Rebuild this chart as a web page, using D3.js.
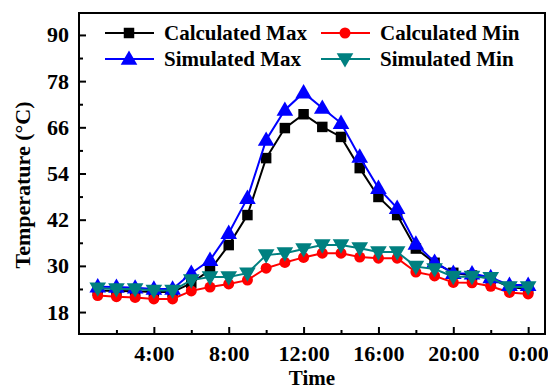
<!DOCTYPE html>
<html>
<head>
<meta charset="utf-8">
<script src="https://cdn.jsdelivr.net/npm/d3@7"></script>
<style>
  body { margin: 0; background: #fff; }
  text { font-family: "Liberation Serif", "Times New Roman", serif; font-weight: bold; }
</style>
</head>
<body>
<div class="svg-container"></div>
<script>
// hours 1..24 (24 = 0:00)
var hours = [1,2,3,4,5,6,7,8,9,10,11,12,13,14,15,16,17,18,19,20,21,22,23,24];

var calcMax = [23.6,23.5,23.4,23.2,23.2,25.5,28.9,35.4,43.2,58.0,65.8,69.4,66.1,63.5,55.4,47.9,43.2,34.5,30.8,28.2,27.5,26.7,24.5,24.0];
var calcMin = [22.3,22.0,21.8,21.4,21.4,23.5,24.5,25.3,26.3,29.4,30.9,32.2,33.3,33.3,32.3,32.0,32.0,28.4,27.4,25.7,25.6,24.7,23.1,22.7];
var simMax  = [24.6,24.5,24.3,24.0,24.0,28.1,31.5,38.5,47.6,62.7,70.5,75.0,71.0,67.1,58.3,50.2,45.0,35.7,31.0,28.1,28.0,27.0,25.0,25.0];
var simMin  = [24.2,24.0,24.0,23.6,23.6,26.3,27.1,27.1,28.1,32.8,33.3,34.4,35.4,35.4,34.6,33.6,33.6,29.8,29.2,27.2,27.2,26.9,24.5,24.5];

var yTicks = [18,30,42,54,66,78,90];
var yMinor = [24,36,48,60,72,84];
var xTicks = [4,8,12,16,20,24];
var xTickLabels = ["4:00","8:00","12:00","16:00","20:00","0:00"];
var xMinor = [2,6,10,14,18,22];

var series = [
  {name: "Calculated Max", values: calcMax, color: "#000000", shape: "square"},
  {name: "Calculated Min", values: calcMin, color: "#ff0000", shape: "circle"},
  {name: "Simulated Max",  values: simMax,  color: "#0000ff", shape: "up"},
  {name: "Simulated Min",  values: simMin,  color: "#008080", shape: "down"}
];

var fullWidth = 548, fullHeight = 390;
var plot = {left: 79, right: 545, top: 13, bottom: 334};

var svg = d3.select(".svg-container")
  .append("svg")
  .attr("width", fullWidth)
  .attr("height", fullHeight);

var xScale = d3.scaleLinear().domain([0, 24.9]).range([plot.left, plot.right]);
var yScale = d3.scaleLinear().domain([12.3, 95.7]).range([plot.bottom, plot.top]);

function markerPath(shape) {
  if (shape == "square") return d3.symbol().type(d3.symbolSquare).size(110)();
  if (shape == "circle") return d3.symbol().type(d3.symbolCircle).size(95)();
  return d3.symbol().type(d3.symbolTriangle).size(120)();
}
function markerTransform(shape, x, y) {
  if (shape == "up") return "translate(" + x + "," + (y + 1) + ")";
  if (shape == "down") return "translate(" + x + "," + (y - 1) + ") rotate(180)";
  return "translate(" + x + "," + y + ")";
}

// axes: bottom and left with inward ticks
var xAxis = svg.append("g")
  .attr("transform", "translate(0," + plot.bottom + ")")
  .call(d3.axisBottom(xScale).tickValues(xTicks)
    .tickSize(-7).tickPadding(11)
    .tickFormat(function(d, i) { return xTickLabels[i]; }));
xAxis.select(".domain").remove();
xAxis.selectAll(".tick line").attr("stroke", "#000").attr("stroke-width", 2);
xAxis.selectAll("text").attr("font-size", 22).attr("fill", "#000");

svg.append("g")
  .attr("transform", "translate(0," + plot.bottom + ")")
  .call(d3.axisBottom(xScale).tickValues(xMinor).tickSize(-4).tickFormat(""))
  .call(function(g) { g.select(".domain").remove(); })
  .selectAll(".tick line").attr("stroke", "#000").attr("stroke-width", 2);

var yAxis = svg.append("g")
  .attr("transform", "translate(" + plot.left + ",0)")
  .call(d3.axisLeft(yScale).tickValues(yTicks).tickSize(-7).tickPadding(10));
yAxis.select(".domain").remove();
yAxis.selectAll(".tick line").attr("stroke", "#000").attr("stroke-width", 2);
yAxis.selectAll("text").attr("font-size", 22).attr("fill", "#000");

svg.append("g")
  .attr("transform", "translate(" + plot.left + ",0)")
  .call(d3.axisLeft(yScale).tickValues(yMinor).tickSize(-4).tickFormat(""))
  .call(function(g) { g.select(".domain").remove(); })
  .selectAll(".tick line").attr("stroke", "#000").attr("stroke-width", 2);

// frame
svg.append("rect")
  .attr("x", plot.left).attr("y", plot.top)
  .attr("width", plot.right - plot.left).attr("height", plot.bottom - plot.top)
  .attr("fill", "none").attr("stroke", "#000").attr("stroke-width", 2);

// axis titles
svg.append("text")
  .attr("x", (plot.left + plot.right) / 2).attr("y", 385)
  .attr("text-anchor", "middle").attr("font-size", 21)
  .text("Time");

svg.append("text")
  .attr("transform", "translate(30," + 185 + ") rotate(-90)")
  .attr("text-anchor", "middle").attr("font-size", 22)
  .text("Temperature (\u00B0C)");

// series
var line = d3.line()
  .x(function(d) { return xScale(d[0]); })
  .y(function(d) { return yScale(d[1]); });

series.forEach(function(s) {
  var pts = hours.map(function(h, i) { return [h, s.values[i]]; });
  svg.append("path")
    .datum(pts)
    .attr("d", line)
    .attr("fill", "none")
    .attr("stroke", s.color)
    .attr("stroke-width", 2);
  svg.append("g").selectAll("path")
    .data(pts)
    .enter()
    .append("path")
    .attr("d", markerPath(s.shape))
    .attr("transform", function(d) { return markerTransform(s.shape, xScale(d[0]), yScale(d[1])); })
    .attr("fill", s.color);
});

// legend, 2 x 2
var legendPos = [[105, 33], [321, 33], [105, 59], [321, 59]];
series.forEach(function(s, i) {
  var lx = legendPos[i][0], ly = legendPos[i][1];
  var g = svg.append("g");
  g.append("line")
    .attr("x1", lx).attr("x2", lx + 49)
    .attr("y1", ly).attr("y2", ly)
    .attr("stroke", s.color).attr("stroke-width", 2);
  g.append("path")
    .attr("d", markerPath(s.shape))
    .attr("transform", markerTransform(s.shape, lx + 24, ly))
    .attr("fill", s.color);
  g.append("text")
    .attr("x", lx + 59).attr("y", ly + 7)
    .attr("font-size", 21)
    .text(s.name);
});
</script>
</body>
</html>
